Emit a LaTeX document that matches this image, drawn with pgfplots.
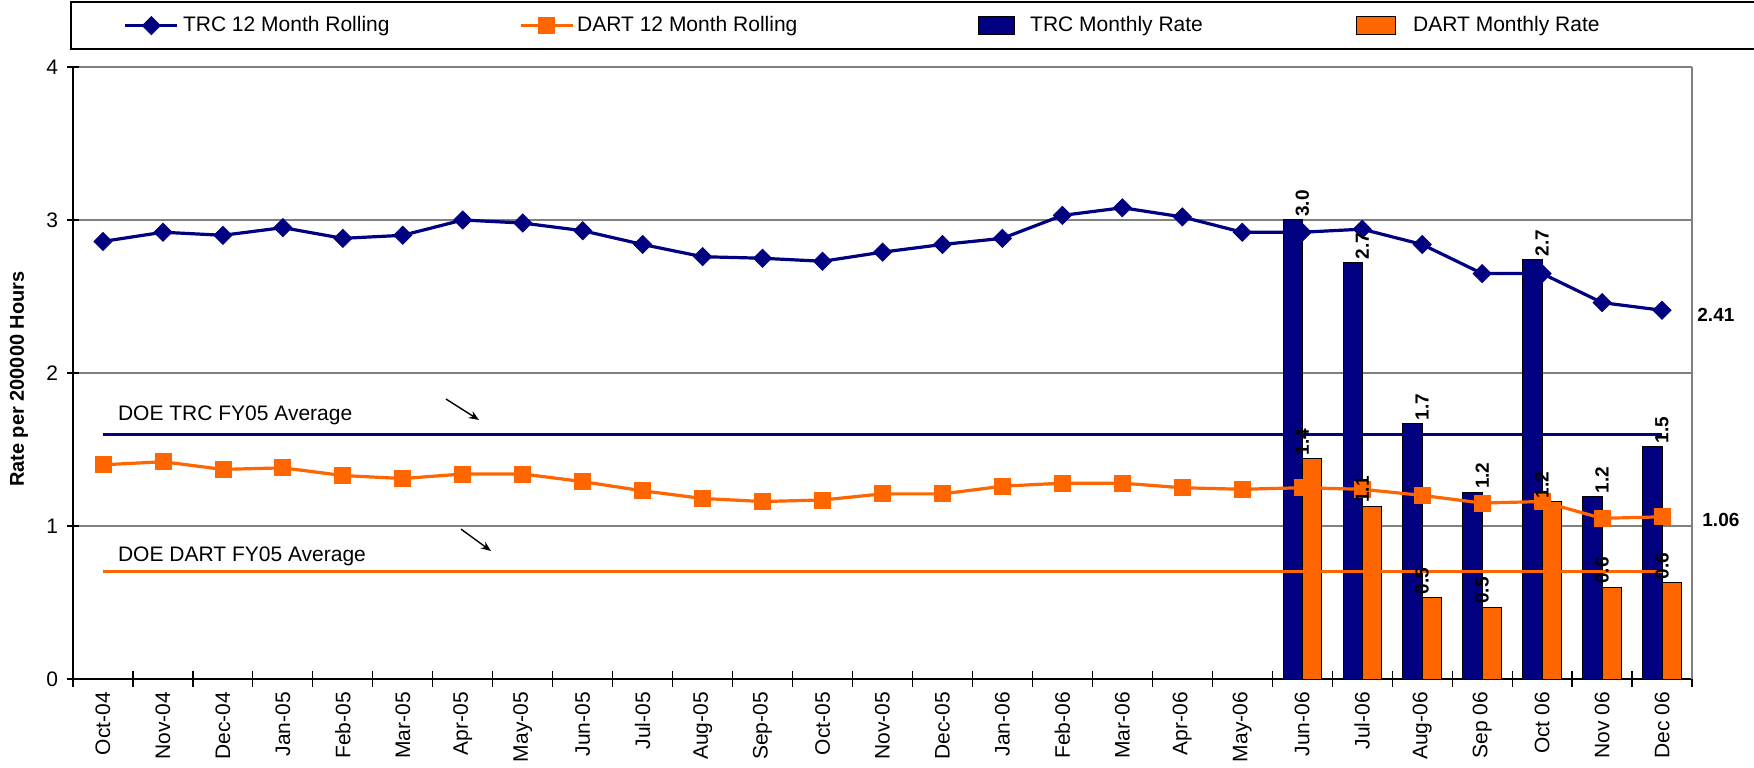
\documentclass[border=0pt]{standalone}
\usepackage{fontspec}
\setmainfont{Liberation Sans}
\usepackage{pgfplots}
\pgfplotsset{compat=1.18}
\usetikzlibrary{arrows.meta}
\definecolor{navy}{RGB}{0,0,128}
\definecolor{dorange}{RGB}{255,102,0}
\definecolor{gridgray}{RGB}{128,128,128}
\pgfplotsset{
 legA/.style={legend image code/.code={\path (0bp,0bp) (54.5bp,0bp); \draw[##1, mark repeat=2, mark phase=2] plot coordinates {(26.5bp,0bp) (39.5bp,0bp) (52.5bp,0bp)};}},
 legB/.style={legend image code/.code={\path (0bp,0bp) (27.5bp,0bp); \draw[##1, mark repeat=2, mark phase=2] plot coordinates {(0bp,0bp) (13bp,0bp) (26bp,0bp)};}},
 legC/.style={legend image code/.code={\path (0bp,0bp) (25.5bp,0bp); \draw[##1] (0bp,-4.5bp) rectangle (18bp,4.5bp);}},
 legD/.style={legend image code/.code={\path (0bp,0bp) (28bp,0bp); \draw[##1] (0bp,-4.5bp) rectangle (19.5bp,4.5bp);}},
 barlab/.style={draw=none, fill=none, nodes near coords, nodes near coords style={rotate=90, anchor=west, inner sep=1.5bp, black, font=\bfseries\fontsize{9.5bp}{11bp}\selectfont, /pgf/number format/.cd, fixed, zerofill, precision=1}},
}
\begin{document}
\begin{tikzpicture}
\useasboundingbox (0,0) rectangle (877bp,384bp);
\begin{axis}[
 at={(36.5bp,44.5bp)}, anchor=south west,
 scale only axis, width=809.5bp, height=306bp,
 xmin=-0.5, xmax=26.5, ymin=0, ymax=4,
 ytick={0,1,2,3,4},
 xtick={0,...,26},
 xticklabels={Oct-04,Nov-04,Dec-04,Jan-05,Feb-05,Mar-05,Apr-05,May-05,Jun-05,Jul-05,Aug-05,Sep-05,Oct-05,Nov-05,Dec-05,Jan-06,Feb-06,Mar-06,Apr-06,May-06,Jun-06,Jul-06,Aug-06,Sep 06,Oct 06,Nov 06,Dec 06},
 minor xtick={-0.5,0.5,...,26.5},
 major x tick style={draw=none},
 minor x tick style={black, line width=0.6bp},
 ytick style={black, line width=0.6bp},
 tick align=center,
 major tick length=6bp, minor tick length=8bp,
 axis x line*=bottom, axis y line*=left,
 axis line style={black, line width=0.8bp, -},
 ymajorgrids, grid style={gridgray, line width=0.6bp},
 xticklabel style={rotate=90, anchor=east, font=\fontsize{10.5bp}{12bp}\selectfont},
 yticklabel style={font=\fontsize{10.5bp}{12bp}\selectfont, xshift=-1bp},
 /pgf/number format/assume math mode=true,
 ylabel={Rate per 200000 Hours},
 every axis y label/.style={at={(axis description cs:-0.0334,0.49)}, rotate=90, anchor=center, font=\bfseries\fontsize{10bp}{12bp}\selectfont},
 clip=false,
 legend columns=4,
 legend style={at={(-0.00185,1.0278)}, anchor=south west, draw=black, line width=0.8bp, fill=white,
   inner xsep=0pt, inner ysep=6.5bp,
   /tikz/every even column/.style={column sep=0pt},
   /tikz/every odd column/.style={column sep=0pt},
   nodes={inner sep=0pt, text height=8bp, text depth=2.5bp, font=\fontsize{10.5bp}{12bp}\selectfont},
   cells={anchor=west}},
]
% monthly bars (drawn first, behind lines)
\addplot[ybar, bar width=0.32, bar shift=-0.16, fill=navy, draw=black, line width=0.5bp, forget plot]
  coordinates {(20,3.0) (21,2.72) (22,1.67) (23,1.22) (24,2.74) (25,1.19) (26,1.52)};
\addplot[ybar, bar width=0.32, bar shift=0.16, fill=dorange, draw=black, line width=0.5bp, forget plot]
  coordinates {(20,1.44) (21,1.13) (22,0.53) (23,0.47) (24,1.16) (25,0.60) (26,0.63)};
% DOE averages
\addplot[navy, line width=1.6bp, forget plot] coordinates {(0,1.6) (26,1.6)};
\addplot[dorange, line width=1.6bp, forget plot] coordinates {(0,0.7) (26,0.7)};
% rolling lines
\addplot[navy, line width=1.6bp, mark=square*, mark size=3.2bp, mark options={rotate=45, line width=0.4bp}, legA]
  coordinates {(0,2.86) (1,2.92) (2,2.90) (3,2.95) (4,2.88) (5,2.90) (6,3.00) (7,2.98) (8,2.93) (9,2.84) (10,2.76) (11,2.75) (12,2.73) (13,2.79) (14,2.84) (15,2.88) (16,3.03) (17,3.08) (18,3.02) (19,2.92) (20,2.92) (21,2.94) (22,2.84) (23,2.65) (24,2.65) (25,2.46) (26,2.41)};
\addlegendentry{\makebox[168bp][l]{TRC 12 Month Rolling}}
\addplot[dorange, line width=1.6bp, mark=square*, mark size=4bp, mark options={line width=0.4bp}, legB]
  coordinates {(0,1.40) (1,1.42) (2,1.37) (3,1.38) (4,1.33) (5,1.31) (6,1.34) (7,1.34) (8,1.29) (9,1.23) (10,1.18) (11,1.16) (12,1.17) (13,1.21) (14,1.21) (15,1.26) (16,1.28) (17,1.28) (18,1.25) (19,1.24) (20,1.25) (21,1.24) (22,1.20) (23,1.15) (24,1.16) (25,1.05) (26,1.06)};
\addlegendentry{\makebox[200.5bp][l]{DART 12 Month Rolling}}
\addlegendimage{fill=navy, draw=black, line width=0.5bp, legC}
\addlegendentry{\makebox[163bp][l]{TRC Monthly Rate}}
\addlegendimage{fill=dorange, draw=black, line width=0.5bp, legD}
\addlegendentry{\makebox[172bp][l]{DART Monthly Rate}}
% bar value labels on top of everything
\addplot[ybar, bar width=0.32, bar shift=-0.16, forget plot, barlab]
  coordinates {(20,3.0) (21,2.72) (22,1.67) (23,1.22) (24,2.74) (25,1.19) (26,1.52)};
\addplot[ybar, bar width=0.32, bar shift=0.16, forget plot, barlab]
  coordinates {(20,1.44) (21,1.13) (22,0.53) (23,0.47) (24,1.16) (25,0.60) (26,0.63)};
% annotations
\node[anchor=base west, font=\fontsize{10.5bp}{12bp}\selectfont, inner sep=0pt] at (axis cs:0.245,1.688) {DOE TRC FY05 Average};
\node[anchor=base west, font=\fontsize{10.5bp}{12bp}\selectfont, inner sep=0pt] at (axis cs:0.245,0.767) {DOE DART FY05 Average};
\draw[-{Stealth[length=5bp,width=4bp]}, line width=0.7bp] (axis cs:5.72,1.83) -- (axis cs:6.27,1.693);
\draw[-{Stealth[length=5bp,width=4bp]}, line width=0.7bp] (axis cs:5.97,0.98) -- (axis cs:6.47,0.837);
\node[anchor=west, inner sep=0pt, xshift=2.5bp, font=\bfseries\fontsize{9.5bp}{11bp}\selectfont] at (axis cs:26.5,2.38) {2.41};
\node[anchor=west, inner sep=0pt, xshift=5bp, font=\bfseries\fontsize{9.5bp}{11bp}\selectfont] at (axis cs:26.5,1.04) {1.06};
\draw[gridgray, line width=0.6bp] (rel axis cs:1,0) -- (rel axis cs:1,1);
\end{axis}
\end{tikzpicture}
\end{document}
